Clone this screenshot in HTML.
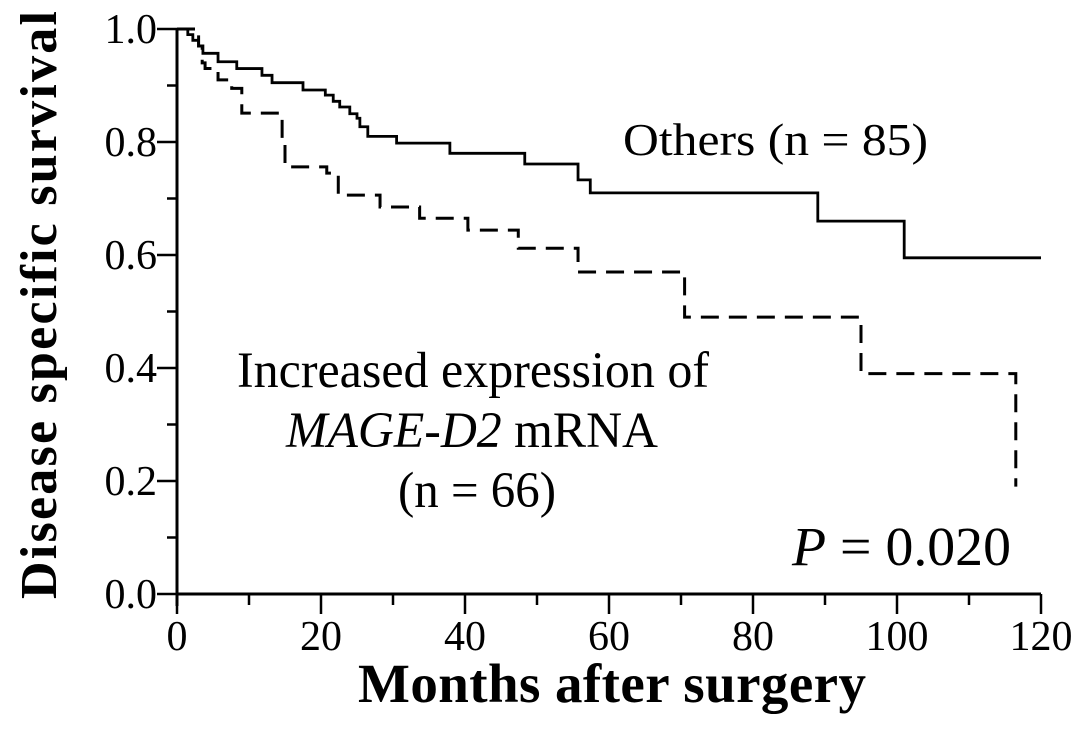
<!DOCTYPE html>
<html><head><meta charset="utf-8"><style>
body{margin:0;background:#fff;}
svg text{font-family:"Liberation Serif",serif;fill:#000;}
</style></head><body>
<svg width="1087" height="749" viewBox="0 0 1087 749" id="chart">
<g id="axes"></g>
<g id="curves"></g>
<text x="623" y="155" font-size="46" textLength="305" lengthAdjust="spacingAndGlyphs">Others (n = 85)</text>
<text x="237" y="387" font-size="51" textLength="472" lengthAdjust="spacingAndGlyphs">Increased expression of</text>
<text x="286" y="447" font-size="51" textLength="372" lengthAdjust="spacingAndGlyphs"><tspan font-style="italic">MAGE-D2</tspan> mRNA</text>
<text x="398" y="507" font-size="51" textLength="158" lengthAdjust="spacingAndGlyphs">(n = 66)</text>
<text x="792" y="565" font-size="55" textLength="219" lengthAdjust="spacingAndGlyphs"><tspan font-style="italic">P</tspan> = 0.020</text>
<text x="612" y="702" font-size="55" font-weight="bold" text-anchor="middle" textLength="508">Months after surgery</text>
<text transform="translate(56,305) rotate(-90)" font-size="52" font-weight="bold" text-anchor="middle" textLength="588">Disease specific survival</text>
</svg>
<script>
const xTicks=[0,20,40,60,80,100,120];
const yTicks=[0.0,0.2,0.4,0.6,0.8,1.0];
const othersTimes=[0,1.5,2.2,3,3.6,5.7,8.3,11.8,13.2,17.5,20.6,21.7,22.6,24,25,25.4,26.5,30.5,37.9,48.3,55.7,57.4,89,101,120];
const othersSurv=[1.0,0.99,0.98,0.97,0.957,0.942,0.93,0.918,0.905,0.892,0.883,0.872,0.862,0.85,0.842,0.827,0.81,0.798,0.78,0.761,0.733,0.71,0.66,0.595,0.595];
const incTimes=[0,3,3.5,3.9,5.7,7.6,9,14.6,15,20.8,22.4,28.2,33.7,40.4,47.4,55.7,70.5,95,116.5];
const incSurv=[1.0,0.97,0.94,0.93,0.91,0.895,0.851,0.798,0.756,0.745,0.706,0.685,0.665,0.644,0.612,0.57,0.49,0.39,0.19];
const NS='http://www.w3.org/2000/svg';
const X=t=>177+t*7.2, Y=v=>594-v*565;
const axes=document.getElementById('axes'), curves=document.getElementById('curves');
function mk(tag,attrs,parent){const e=document.createElementNS(NS,tag);for(const k in attrs)e.setAttribute(k,attrs[k]);parent.appendChild(e);return e;}
let a=mk('line',{x1:X(0),y1:Y(0),x2:X(120),y2:Y(0),stroke:'#000','stroke-width':3},axes);


a=mk('line',{x1:X(0),y1:Y(0)+12,x2:X(0),y2:Y(1),stroke:'#000','stroke-width':3},axes);


for(let t=0;t<=120;t+=10){const major=t%20===0;
 const l=mk('line',{x1:X(t),y1:Y(0),x2:X(t),y2:Y(0)+(major?20:11),stroke:'#000','stroke-width':2.5},axes);
 
 }
xTicks.forEach(t=>{const e=mk('text',{x:X(t),y:Y(0)+56,'font-size':42,'text-anchor':'middle'},axes);e.textContent=String(t);
 
 });
for(let i=0;i<=10;i++){const v=i/10,major=i%2===0;
 const l=mk('line',{x1:X(0)-(major?20:10),y1:Y(v),x2:X(0),y2:Y(v),stroke:'#000','stroke-width':2.5},axes);
 
 }
yTicks.forEach(v=>{const e=mk('text',{x:X(0)-20,y:Y(v)+14,'font-size':42,'text-anchor':'end'},axes);e.textContent=v.toFixed(1);
 
 });
function stepPath(ts,ss){let d=`M${X(ts[0])},${Y(ss[0])}`;for(let i=1;i<ts.length;i++){d+=` H${X(ts[i])} V${Y(ss[i])}`;}return d;}
let p=mk('path',{d:stepPath(othersTimes,othersSurv),fill:'none',stroke:'#000','stroke-width':2.8},curves);


p=mk('path',{d:stepPath(incTimes,incSurv),fill:'none',stroke:'#000','stroke-width':3,'stroke-dasharray':'18,10'},curves);


</script>
</body></html>
